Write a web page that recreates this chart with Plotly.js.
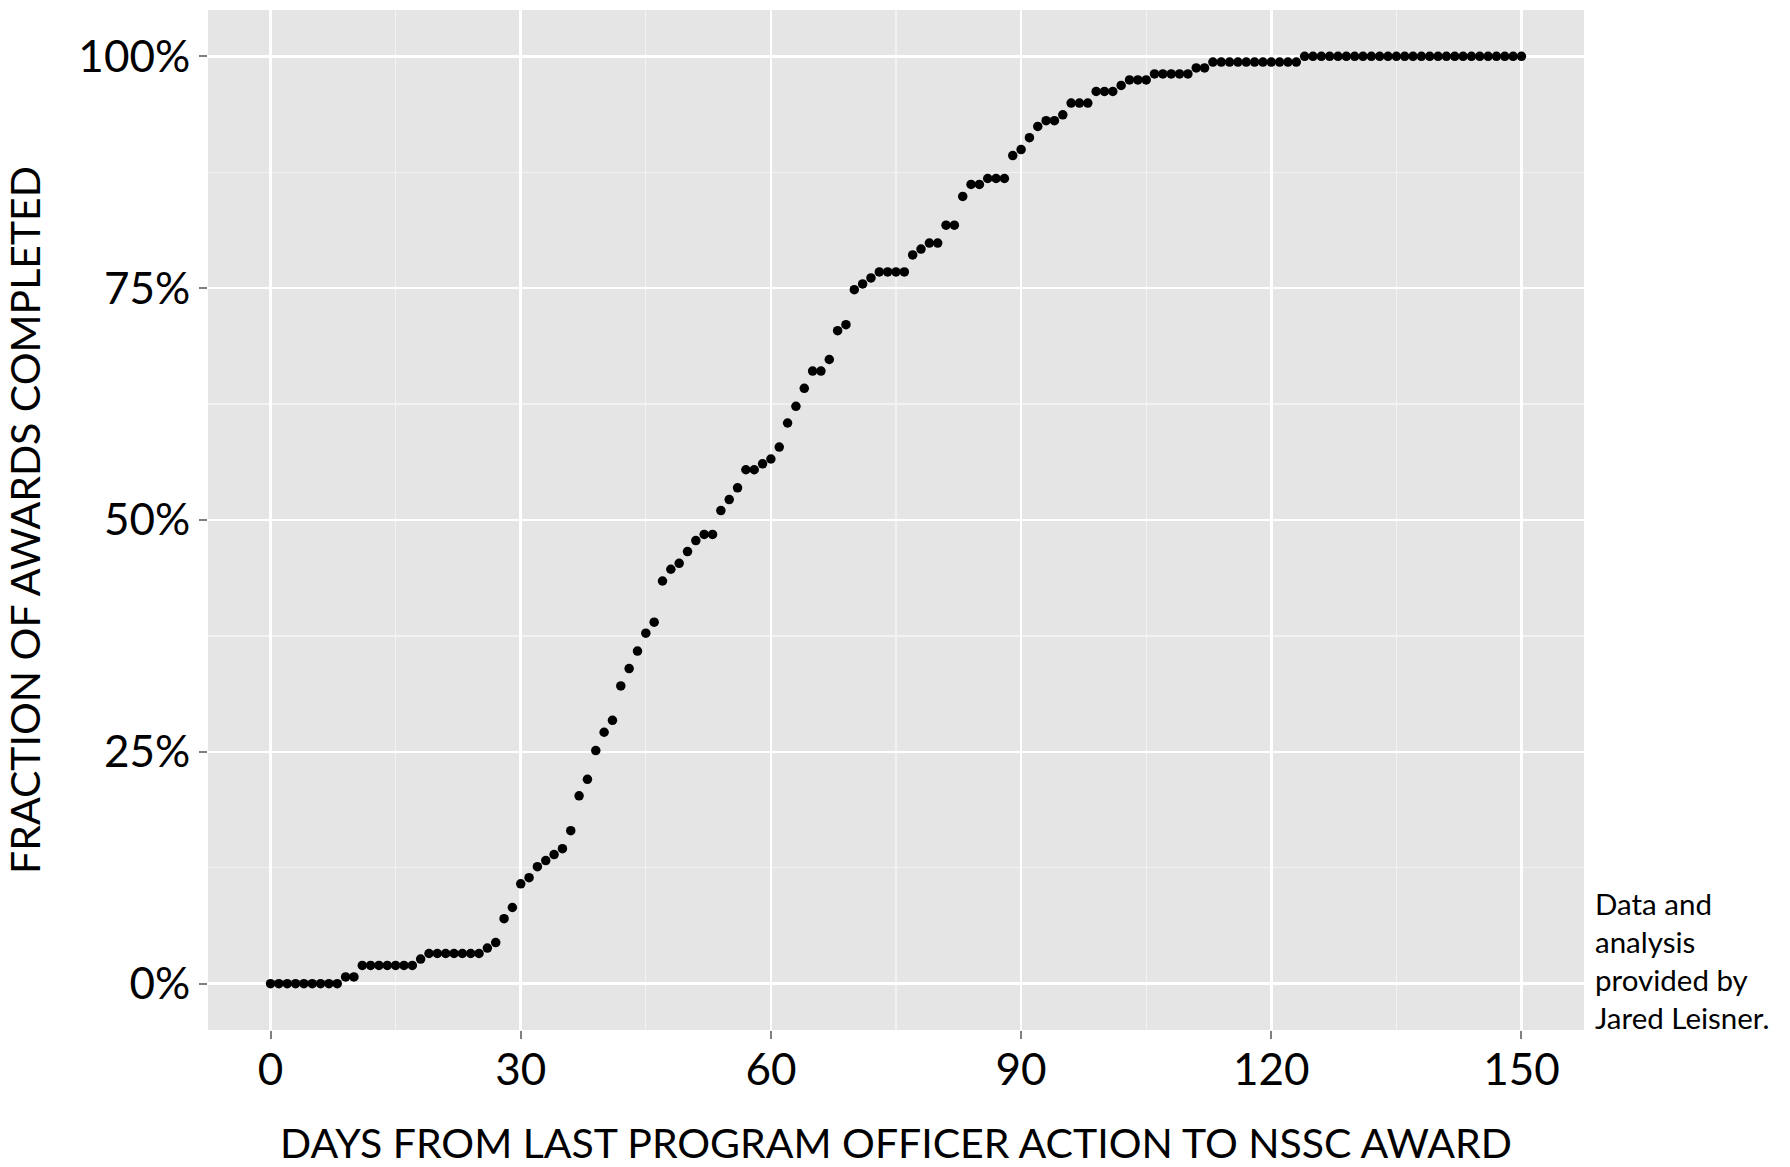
<!DOCTYPE html>
<html>
<head>
<meta charset="utf-8">
<script src="https://cdn.plot.ly/plotly-3.0.1.min.js"></script>
<style>html,body{margin:0;padding:0;background:#fff;}#chart{width:1790px;height:1167px;}</style>
</head>
<body>
<div id="chart"></div>
<script>
// Days from last program officer action to NSSC award
const days = [];
for (let d = 0; d <= 150; d++) days.push(d);

// Cumulative fraction of awards completed (one value per day)
const fractionCompleted = [
  0, 0, 0, 0, 0, 0, 0, 0, 0, 0.0072,                                   // 0-9
  0.0072, 0.0196, 0.0196, 0.0196, 0.0196, 0.0196, 0.0196, 0.0196, 0.0265, 0.0325, // 10-19
  0.0325, 0.0325, 0.0325, 0.0325, 0.0325, 0.0325, 0.0383, 0.0443, 0.0701, 0.0821, // 20-29
  0.1076, 0.1143, 0.1261, 0.1327, 0.1392, 0.1456, 0.1649, 0.2025, 0.2203, 0.2514, // 30-39
  0.2711, 0.2840, 0.3211, 0.3398, 0.3587, 0.3780, 0.3898, 0.4342, 0.4469, 0.4533, // 40-49
  0.4660, 0.4778, 0.4844, 0.4844, 0.5102, 0.5220, 0.5347, 0.5542, 0.5542, 0.5606, // 50-59
  0.5658, 0.5786, 0.6046, 0.6226, 0.6420, 0.6606, 0.6606, 0.6731, 0.7042, 0.7106, // 60-69
  0.7484, 0.7546, 0.7611, 0.7675, 0.7675, 0.7675, 0.7675, 0.7859, 0.7922, 0.7986, // 70-79
  0.7986, 0.8179, 0.8179, 0.8490, 0.8619, 0.8619, 0.8683, 0.8683, 0.8683, 0.8930, // 80-89
  0.8995, 0.9123, 0.9244, 0.9306, 0.9306, 0.9370, 0.9496, 0.9496, 0.9496, 0.9621, // 90-99
  0.9621, 0.9621, 0.9686, 0.9746, 0.9746, 0.9746, 0.9810, 0.9810, 0.9810, 0.9810, // 100-109
  0.9810, 0.9875, 0.9875, 0.9939, 0.9939, 0.9939, 0.9939, 0.9939, 0.9939, 0.9939, // 110-119
  0.9939, 0.9939, 0.9939, 0.9939, 1, 1, 1, 1, 1, 1,                    // 120-129
  1, 1, 1, 1, 1, 1, 1, 1, 1, 1,                                        // 130-139
  1, 1, 1, 1, 1, 1, 1, 1, 1, 1,                                        // 140-149
  1                                                                    // 150
];

const xTickVals = [0, 30, 60, 90, 120, 150];
const yTickVals = [0, 0.25, 0.5, 0.75, 1];
const yTickText = ['0%', '25%', '50%', '75%', '100%'];
const xTitle = 'DAYS FROM LAST PROGRAM OFFICER ACTION TO NSSC AWARD';
const yTitle = 'FRACTION OF AWARDS COMPLETED';
const captionLines = ['Data and', 'analysis', 'provided by', 'Jared Leisner.'];

const FONT = 'Lato, "Open Sans", sans-serif';

const trace = {
  x: days,
  y: fractionCompleted,
  type: 'scatter',
  mode: 'markers',
  marker: {color: '#000000', size: 9.5, line: {width: 0}},
  hoverinfo: 'x+y',
  showlegend: false
};

const captionAnnotations = captionLines.map((t, i) => ({
  text: t,
  xref: 'paper', yref: 'paper',
  x: 1.0065, xanchor: 'left',
  y: (1030 - (903 + i * 38.3)) / 1020, yanchor: 'middle',
  showarrow: false,
  align: 'left',
  font: {family: FONT, size: 29.5, color: '#000000'}
}));

const layout = {
  width: 1790,
  height: 1167,
  margin: {l: 208, r: 206, t: 10, b: 137, pad: 0},
  paper_bgcolor: '#FFFFFF',
  plot_bgcolor: '#E5E5E5',
  showlegend: false,
  font: {family: FONT, color: '#000000'},
  xaxis: {
    range: [-7.5, 157.5],
    tickmode: 'array',
    tickvals: xTickVals,
    ticks: 'outside',
    ticklen: 8,
    tickwidth: 2,
    tickcolor: '#7F7F7F',
    ticklabelstandoff: -7,
    showgrid: true,
    gridcolor: '#FFFFFF',
    gridwidth: 2.6,
    minor: {tick0: 15, dtick: 30, showgrid: true, gridcolor: '#F2F2F2', gridwidth: 1.3, ticks: ''},
    zeroline: false,
    showline: false,
    tickfont: {family: FONT, size: 44, color: '#000000'},
    title: {text: xTitle, font: {family: FONT, size: 41, color: '#000000'}, standoff: 40}
  },
  yaxis: {
    range: [-0.05, 1.05],
    tickmode: 'array',
    tickvals: yTickVals,
    ticktext: yTickText,
    ticks: 'outside',
    ticklen: 8,
    tickwidth: 2,
    tickcolor: '#7F7F7F',
    showgrid: true,
    gridcolor: '#FFFFFF',
    gridwidth: 2.6,
    minor: {tick0: 0.125, dtick: 0.25, showgrid: true, gridcolor: '#F2F2F2', gridwidth: 1.3, ticks: ''},
    zeroline: false,
    showline: false,
    tickfont: {family: FONT, size: 44, color: '#000000'},
    title: {text: yTitle, font: {family: FONT, size: 41, color: '#000000'}, standoff: 30}
  },
  annotations: captionAnnotations
};

Plotly.newPlot('chart', [trace], layout, {displayModeBar: false, staticPlot: true});
</script>
</body>
</html>
